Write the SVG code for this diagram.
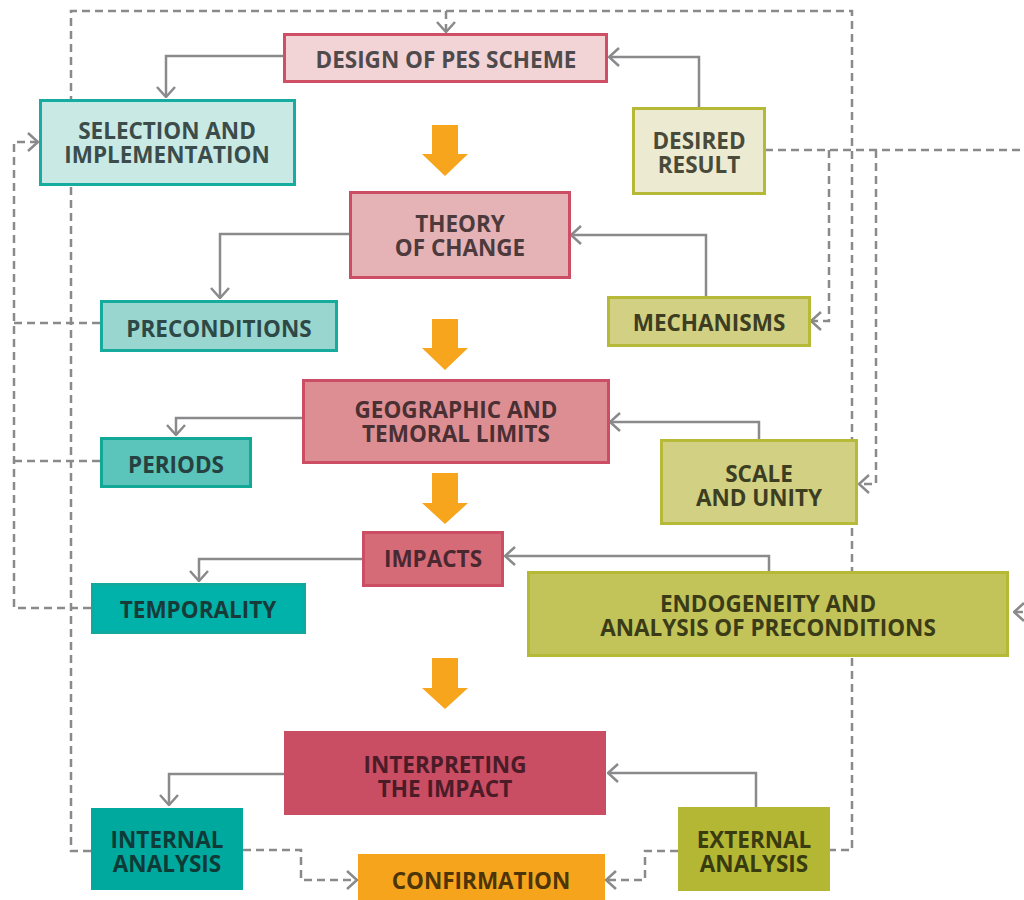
<svg xmlns="http://www.w3.org/2000/svg" width="1024" height="900" viewBox="0 0 1024 900">
  <style>
    .box { stroke-width: 3; }
    .lbl { font-family: "Open Sans", "Noto Sans", "Liberation Sans", sans-serif; font-weight: 700; font-size: 22.5px; text-anchor: middle; }
    .solid { fill: none; stroke: #8a8a8c; stroke-width: 2.5; }
    .dash { fill: none; stroke: #8a8a8c; stroke-width: 2.5; stroke-dasharray: 8 5; }
    .flow { fill: #f6a51c; }
  </style>
  <defs>
    <marker id="chev" viewBox="0 0 12 20" refX="11" refY="10" markerWidth="12" markerHeight="20" markerUnits="userSpaceOnUse" orient="auto">
      <path d="M1,1 L11,10 L1,19" fill="none" stroke="#8a8a8c" stroke-width="2.5"/>
    </marker>
  </defs>
  <rect width="1024" height="900" fill="#ffffff"/>

  <!-- connectors -->
  <g id="connectors">
    <!-- feedback loop from the analysis boxes back to the scheme design -->
    <path class="dash" d="M91,851 H71 V11 H852 V850 H830"/>
    <path class="dash" d="M446,11 V32" marker-end="url(#chev)"/>
    <!-- desired result feeds mechanisms, scale and endogeneity -->
    <path class="dash" d="M765,150 H1040 V612 H1014" marker-end="url(#chev)"/>
    <path class="dash" d="M829,150 V321 H811" marker-end="url(#chev)"/>
    <path class="dash" d="M876,150 V484 H859" marker-end="url(#chev)"/>
    <!-- left-hand return to selection -->
    <path class="dash" d="M100,323 H14"/>
    <path class="dash" d="M100,461 H14"/>
    <path class="dash" d="M91,608 H14 V142 H38" marker-end="url(#chev)"/>
    <!-- into confirmation -->
    <path class="dash" d="M243,850 H301 V880 H357" marker-end="url(#chev)"/>
    <path class="dash" d="M678,851 H645 V880 H606" marker-end="url(#chev)"/>

    <!-- solid links -->
    <path class="solid" d="M283,56 H166 V97" marker-end="url(#chev)"/>
    <path class="solid" d="M699,107 V57 H609" marker-end="url(#chev)"/>
    <path class="solid" d="M349,234 H220 V298" marker-end="url(#chev)"/>
    <path class="solid" d="M706,296 V235 H571" marker-end="url(#chev)"/>
    <path class="solid" d="M302,418 H176 V435" marker-end="url(#chev)"/>
    <path class="solid" d="M759,439 V422 H610" marker-end="url(#chev)"/>
    <path class="solid" d="M362,559 H199 V581" marker-end="url(#chev)"/>
    <path class="solid" d="M769,571 V556 H505" marker-end="url(#chev)"/>
    <path class="solid" d="M284,774 H169 V805" marker-end="url(#chev)"/>
    <path class="solid" d="M756,807 V773 H608" marker-end="url(#chev)"/>

    <!-- main flow arrows -->
    <path class="flow" d="M432,125 H458 V154 H468 L445,176 L422,154 H432 Z"/>
    <path class="flow" d="M432,319 H458 V348 H468 L445,370 L422,348 H432 Z"/>
    <path class="flow" d="M432,473 H458 V503 H468 L445,524 L422,503 H432 Z"/>
    <path class="flow" d="M432,658 H458 V688 H468 L445,709 L422,688 H432 Z"/>
  </g>

  <g id="design">
    <rect class="box" x="284.5" y="34.5" width="322" height="47" fill="#f2d4d6" stroke="#cf4f66"/>
    <text class="lbl" x="446" y="68" fill="#4f4a4c">DESIGN OF PES SCHEME</text>
  </g>
  <g id="selection">
    <rect class="box" x="40.5" y="100.5" width="254" height="84" fill="#c9e9e5" stroke="#16ada0"/>
    <text class="lbl" fill="#3b4c4a"><tspan x="167" y="139">SELECTION AND</tspan><tspan x="167" y="163">IMPLEMENTATION</tspan></text>
  </g>
  <g id="desired">
    <rect class="box" x="633.5" y="108.5" width="131" height="85" fill="#ecebd1" stroke="#b5b935"/>
    <text class="lbl" fill="#4a4a3a"><tspan x="699" y="149">DESIRED</tspan><tspan x="699" y="173">RESULT</tspan></text>
  </g>
  <g id="theory">
    <rect class="box" x="350.5" y="192.5" width="219" height="85" fill="#e5b3b5" stroke="#cc4e64"/>
    <text class="lbl" fill="#4d3a3d"><tspan x="460" y="232">THEORY</tspan><tspan x="460" y="256">OF CHANGE</tspan></text>
  </g>
  <g id="preconditions">
    <rect class="box" x="101.5" y="301.5" width="235" height="49" fill="#99d6d0" stroke="#17ab9e"/>
    <text class="lbl" x="219" y="337" fill="#2e4846">PRECONDITIONS</text>
  </g>
  <g id="mechanisms">
    <rect class="box" x="608.5" y="297.5" width="201" height="48" fill="#d1d083" stroke="#b7ba38"/>
    <text class="lbl" x="709" y="331" fill="#3d3d22">MECHANISMS</text>
  </g>
  <g id="limits">
    <rect class="box" x="303.5" y="380.5" width="305" height="82" fill="#dc8e93" stroke="#cc4e64"/>
    <text class="lbl" fill="#4a2f33"><tspan x="456" y="418">GEOGRAPHIC AND</tspan><tspan x="456" y="442">TEMORAL LIMITS</tspan></text>
  </g>
  <g id="periods">
    <rect class="box" x="101.5" y="438.5" width="149" height="48" fill="#5bc4bb" stroke="#12a898"/>
    <text class="lbl" x="176" y="473" fill="#264140">PERIODS</text>
  </g>
  <g id="scale">
    <rect class="box" x="661.5" y="440.5" width="195" height="83" fill="#d1d083" stroke="#b7ba38"/>
    <text class="lbl" fill="#3d3d22"><tspan x="759" y="482">SCALE</tspan><tspan x="759" y="506">AND UNITY</tspan></text>
  </g>
  <g id="impacts">
    <rect class="box" x="363.5" y="532.5" width="139" height="53" fill="#d46b77" stroke="#cc4e64"/>
    <text class="lbl" x="433" y="567" fill="#4a2830">IMPACTS</text>
  </g>
  <g id="temporality">
    <rect class="box" x="92.5" y="584.5" width="212" height="48" fill="#00b2a9" stroke="#0fa99d"/>
    <text class="lbl" x="198" y="618" fill="#173b39">TEMPORALITY</text>
  </g>
  <g id="endogeneity">
    <rect class="box" x="528.5" y="572.5" width="479" height="83" fill="#c2c45a" stroke="#b5b935"/>
    <text class="lbl" fill="#3b3c17"><tspan x="768" y="612">ENDOGENEITY AND</tspan><tspan x="768" y="636">ANALYSIS OF PRECONDITIONS</tspan></text>
  </g>
  <g id="interpreting">
    <rect x="284" y="731" width="322" height="84" fill="#c94d63"/>
    <text class="lbl" fill="#4a1c28"><tspan x="445" y="773">INTERPRETING</tspan><tspan x="445" y="797">THE IMPACT</tspan></text>
  </g>
  <g id="internal">
    <rect x="91" y="808" width="152" height="82" fill="#00a99d"/>
    <text class="lbl" fill="#0e3b37"><tspan x="167" y="848">INTERNAL</tspan><tspan x="167" y="872">ANALYSIS</tspan></text>
  </g>
  <g id="external">
    <rect x="678" y="807" width="152" height="84" fill="#b4b733"/>
    <text class="lbl" fill="#393b10"><tspan x="754" y="848">EXTERNAL</tspan><tspan x="754" y="872">ANALYSIS</tspan></text>
  </g>
  <g id="confirmation">
    <rect x="358" y="854" width="247" height="50" fill="#f6a41c"/>
    <text class="lbl" x="481" y="889" fill="#4d3508">CONFIRMATION</text>
  </g>
</svg>
